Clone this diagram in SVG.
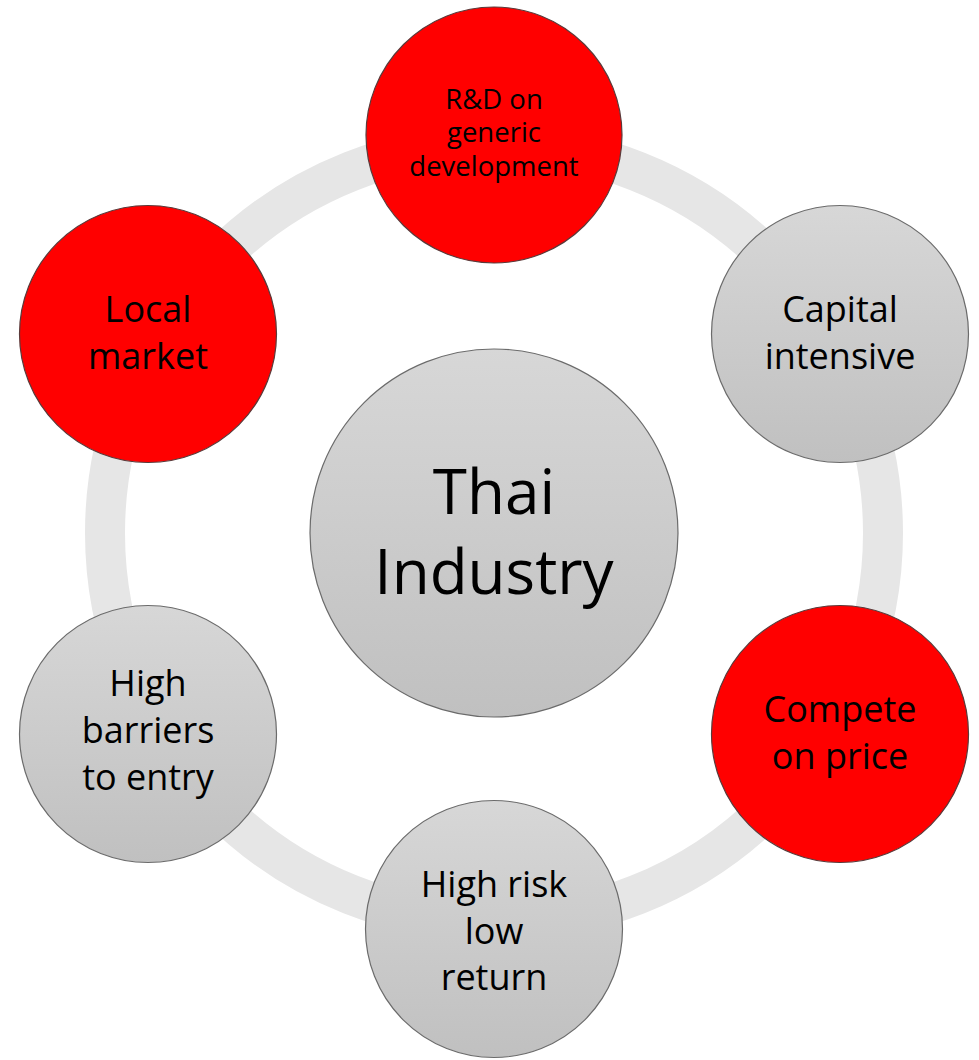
<svg xmlns="http://www.w3.org/2000/svg" width="979" height="1060" viewBox="0 0 979 1060">
<defs>
<linearGradient id="grayGrad" x1="0" y1="0" x2="0" y2="1">
<stop offset="0" stop-color="#d7d7d7"/>
<stop offset="1" stop-color="#c0c0c0"/>
</linearGradient>
<style>
.gray{fill:url(#grayGrad);stroke:#6b6b6b;stroke-width:1.2}
.red{fill:#ff0000;stroke:#5a3a3a;stroke-width:1.2}
.t{font-family:"Open Sans","Noto Sans",sans-serif;fill:#000;text-anchor:middle}
.s{font-size:36px}
.xs{font-size:27.5px}
.big{font-size:62px}
</style>
</defs>
<rect width="979" height="1060" fill="#ffffff"/>
<g id="connectors">
<circle cx="494" cy="533" r="389" fill="none" stroke="#e6e6e6" stroke-width="40"/>
</g>
<g id="center">
<circle class="gray" cx="494" cy="533" r="184"/>
<text class="t big" x="494" y="514">Thai</text>
<text class="t big" x="494" y="594">Industry</text>
</g>
<g id="rd">
<circle class="red" cx="494" cy="135" r="128"/>
<text class="t xs" x="494" y="109">R&amp;D on</text>
<text class="t xs" x="494" y="142">generic</text>
<text class="t xs" x="494" y="176">development</text>
</g>
<g id="capital">
<circle class="gray" cx="840" cy="334" r="128.5"/>
<text class="t s" x="840" y="322">Capital</text>
<text class="t s" x="840" y="369">intensive</text>
</g>
<g id="compete">
<circle class="red" cx="840" cy="734" r="128.5"/>
<text class="t s" x="840" y="722">Compete</text>
<text class="t s" x="840" y="769">on price</text>
</g>
<g id="risk">
<circle class="gray" cx="494" cy="929" r="128.5"/>
<text class="t s" x="494" y="897">High risk</text>
<text class="t s" x="494" y="944">low</text>
<text class="t s" x="494" y="990">return</text>
</g>
<g id="barriers">
<circle class="gray" cx="148" cy="734" r="128.5"/>
<text class="t s" x="148" y="696">High</text>
<text class="t s" x="148" y="743">barriers</text>
<text class="t s" x="148" y="790">to entry</text>
</g>
<g id="local">
<circle class="red" cx="148" cy="334" r="128.5"/>
<text class="t s" x="148" y="322">Local</text>
<text class="t s" x="148" y="369">market</text>
</g>
</svg>
